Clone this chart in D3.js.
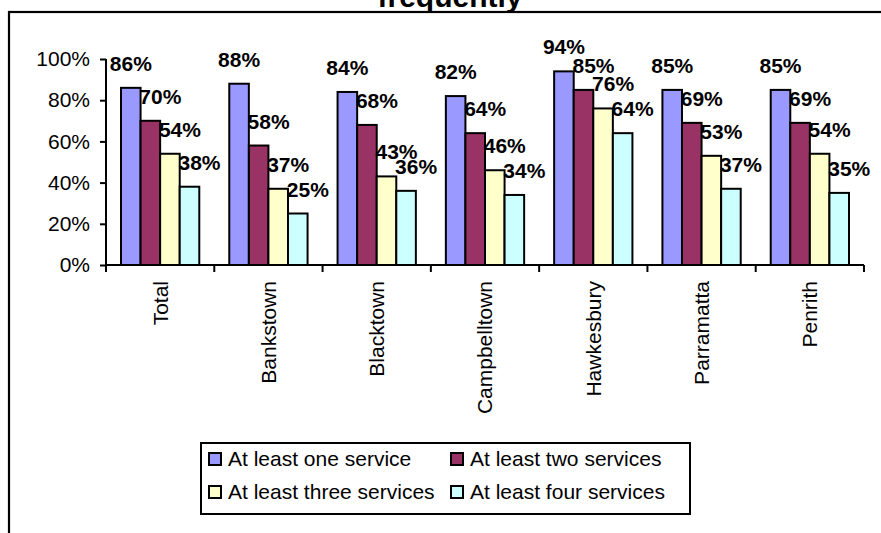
<!DOCTYPE html>
<html><head><meta charset="utf-8">
<script src="https://cdn.jsdelivr.net/npm/d3@7/dist/d3.min.js"></script>
<style>body{margin:0;background:#fff}svg{display:block;font-family:"Liberation Sans",Arial,sans-serif}</style>
</head><body>
<svg id="c" width="881" height="533"></svg>
<script>
const categories = ["Total","Bankstown","Blacktown","Campbelltown","Hawkesbury","Parramatta","Penrith"];
const seriesNames = ["At least one service","At least two services","At least three services","At least four services"];
const atLeastOne   = [86,88,84,82,94,85,85];
const atLeastTwo   = [70,58,68,64,85,69,69];
const atLeastThree = [54,37,43,46,76,53,54];
const atLeastFour  = [38,25,36,34,64,37,35];
const yTicks = [0,20,40,60,80,100];
const colors = ["#9999FF","#993366","#FFFFCC","#CCFFFF"];
const titleText = "frequently";

const seriesValues = [atLeastOne, atLeastTwo, atLeastThree, atLeastFour];
const svg = d3.select("#c");

// outer frame (extends beyond the visible area)
svg.append("rect").attr("x",9).attr("y",12).attr("width",1000).attr("height",600)
  .attr("fill","none").attr("stroke","#000").attr("stroke-width",2.2);

svg.append("text").attr("x",450).attr("y",7).attr("text-anchor","middle")
  .attr("font-size",30).attr("font-weight","bold").text(titleText);

const x0 = d3.scaleBand().domain(categories).range([106,864]).paddingInner(0.277).paddingOuter(0.1385);
const x1 = d3.scaleBand().domain(d3.range(4)).range([0,x0.bandwidth()]);
const y = d3.scaleLinear().domain([0,100]).range([265,59]);

// y axis
const yAxis = svg.append("g").attr("transform","translate(106,0)")
  .call(d3.axisLeft(y).tickValues(yTicks).tickFormat(d=>d+"%").tickSize(6).tickPadding(10));
yAxis.select(".domain").attr("stroke-width",2).attr("d","M0,265V59");
yAxis.selectAll(".tick line").attr("stroke-width",2);
yAxis.selectAll("text").attr("font-size",21).attr("font-family","Liberation Sans, Arial, sans-serif").attr("fill","#000");

// bars
const groups = svg.append("g").selectAll("g").data(categories).join("g")
  .attr("transform",d=>`translate(${x0(d)},0)`);
groups.selectAll("rect").data((d,i)=>seriesValues.map((s,k)=>({k,v:s[i]}))).join("rect")
  .attr("x",d=>x1(d.k)).attr("width",x1.bandwidth())
  .attr("y",d=>y(d.v)).attr("height",d=>265-y(d.v))
  .attr("fill",d=>colors[d.k]).attr("stroke","#000").attr("stroke-width",2);

// x axis
const step = x0.step();
const xa = svg.append("g");
xa.append("line").attr("x1",106).attr("x2",864).attr("y1",265).attr("y2",265).attr("stroke","#000").attr("stroke-width",2);
const bounds = d3.range(categories.length+1).map(i=>106+i*step);
xa.selectAll("line.t").data(bounds).join("line").attr("class","t")
  .attr("x1",d=>d).attr("x2",d=>d).attr("y1",265).attr("y2",272).attr("stroke","#000").attr("stroke-width",2);
xa.selectAll("text").data(categories).join("text")
  .attr("transform",d=>`translate(${x0(d)+x0.bandwidth()/2},281) rotate(-90)`)
  .attr("text-anchor","end").attr("dy","0.35em").attr("font-size",21).text(d=>d);

// data labels
groups.selectAll("text").data((d,i)=>seriesValues.map((s,k)=>({k,v:s[i]}))).join("text")
  .attr("x",d=>x1(d.k)+x1.bandwidth()/2+(d.k>0?10:0))
  .attr("y",d=>y(d.v)-17)
  .attr("text-anchor","middle").attr("font-size",21).attr("font-weight","bold")
  .text(d=>d.v+"%");

// legend
const lg = svg.append("g");
lg.append("rect").attr("x",201).attr("y",443).attr("width",489).attr("height",71)
  .attr("fill","#fff").attr("stroke","#000").attr("stroke-width",2);
const pos = [[208,452],[450,452],[208,485],[450,485]];
seriesNames.forEach((n,k)=>{
  lg.append("rect").attr("x",pos[k][0]+1).attr("y",pos[k][1]+1).attr("width",12).attr("height",12)
    .attr("fill",colors[k]).attr("stroke","#000").attr("stroke-width",2);
  lg.append("text").attr("x",pos[k][0]+20).attr("y",pos[k][1]+7).attr("dy","0.35em")
    .attr("font-size",21).text(n);
});
</script>
</body></html>
